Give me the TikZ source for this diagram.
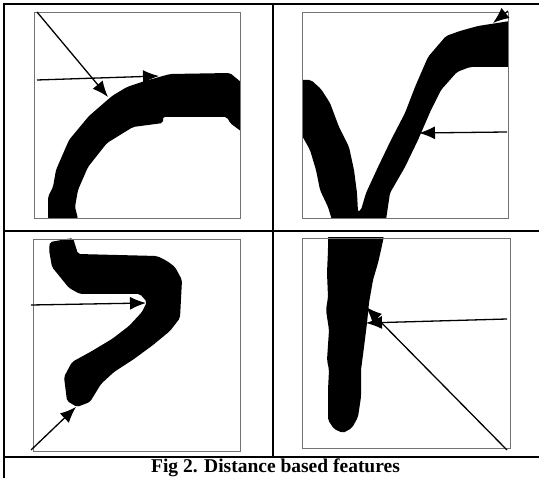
\documentclass[tikz,border=0pt]{standalone}
\usepackage{fontspec}
\setmainfont{Liberation Serif}
\usetikzlibrary{arrows.meta, positioning}

\tikzset{
  grid line/.style={line width=2pt},
  img frame/.style={draw=black!55, line width=0.9pt},
  ink/.style={fill=black, rounded corners=2pt},
  feat/.style={line width=1.3pt, -{Latex[length=16pt,width=13pt]}}
}

\begin{document}
\begin{tikzpicture}[x=1pt, y=-1pt]
    \useasboundingbox (0,0) rectangle (539,478);

    % Khung bảng
    \draw[grid line] (4,478) -- (4,4) -- (539,4);
    \draw[grid line] (273,4) -- (273,457);
    \draw[grid line] (4,231) -- (539,231);
    \draw[grid line] (4,457) -- (539,457);

    % Ảnh 1: nét cong
    \begin{scope}
        \clip (34,12) rectangle (240,218);
        \fill[ink] (48,219) -- (48,197) -- (53,187) -- (56,170) -- (69,140) -- (89,116)
            -- (112,96) -- (127,87) -- (145,81) -- (170,74) -- (230,73) -- (242,83)
            -- (242,132) -- (230,123) -- (227,117) -- (163,117) -- (163,123) -- (133,127)
            -- (107,143) -- (88,167) -- (78,190) -- (75,207) -- (78,219) -- cycle;
    \end{scope}
    \draw[img frame] (34,12) rectangle (240,218);

    % Ảnh 2: chữ V
    \begin{scope}
        \clip (302,12) rectangle (508,218);
        \fill[ink] (300,80) -- (311,80) -- (321,89) -- (330,103) -- (339,127) -- (349,147)
            -- (354,170) -- (357,193) -- (358,212) -- (361,210) -- (366,193) -- (378,167)
            -- (391,140) -- (405,113) -- (415,87) -- (428,57) -- (446,36) -- (460,31)
            -- (478,26) -- (510,21) -- (510,67) -- (470,67) -- (457,72) -- (441,90)
            -- (431,110) -- (418,140) -- (405,167) -- (390,193) -- (386,220) -- (332,220)
            -- (328,207) -- (320,190) -- (316,170) -- (310,150) -- (300,132) -- cycle;
    \end{scope}
    \draw[img frame] (302,12) rectangle (508,218);

    % Ảnh 3: nét móc
    \begin{scope}
        \clip (33,239) rectangle (240,451);
        \fill[ink] (50,242) -- (73,238) -- (78,254) -- (157,256) -- (167,261) -- (175,267)
            -- (182,280) -- (180,318) -- (170,331) -- (153,345) -- (134,359) -- (114,372)
            -- (101,384) -- (90,402) -- (77,407) -- (67,401) -- (64,377) -- (72,362)
            -- (92,351) -- (112,339) -- (129,326) -- (142,312) -- (147,302) -- (140,294)
            -- (80,294) -- (69,288) -- (52,267) -- (49,250) -- cycle;
    \end{scope}
    \draw[img frame] (33,239) rectangle (240,451);

    % Ảnh 4: nét thẳng đứng
    \begin{scope}
        \clip (302,238) rectangle (510,448);
        \fill[ink] (328,236) -- (384,236) -- (381,250) -- (378,263) -- (373,280) -- (369,303)
            -- (367,323) -- (364,347) -- (361,370) -- (361,397) -- (358,417) -- (352,428)
            -- (343,433) -- (334,429) -- (328,420) -- (328,390) -- (329,370) -- (327,360)
            -- (329,330) -- (326,310) -- (328,297) -- (327,273) -- (328,250) -- cycle;
    \end{scope}
    \draw[img frame] (302,238) rectangle (510,448);

    % Điểm đầu và điểm cuối của các mũi tên
    \coordinate (a1s) at (37,12);   \coordinate (a1e) at (108,97);
    \coordinate (a2s) at (37,80);   \coordinate (a2e) at (159,76);
    \coordinate (b1s) at (508,11);  \coordinate (b1e) at (493,23);
    \coordinate (b2s) at (507,132); \coordinate (b2e) at (419,133);
    \coordinate (c1s) at (31,305);  \coordinate (c1e) at (146,303);
    \coordinate (c2s) at (31,450);  \coordinate (c2e) at (76,407);
    \coordinate (d1s) at (507,319); \coordinate (d1e) at (366,323);
    \coordinate (d2s) at (507,450); \coordinate (d2e) at (366,307);

    % Mũi tên đặc trưng khoảng cách
    \foreach \p in {a1, a2, b1, b2, c1, c2, d1, d2}
        \draw[feat] (\p s) -- (\p e);

    % Chú thích
    \node[font=\bfseries\fontsize{19.5}{21}\selectfont] (caption) at (275.5,467.5) {Fig 2. Distance based features};
\end{tikzpicture}
\end{document}
